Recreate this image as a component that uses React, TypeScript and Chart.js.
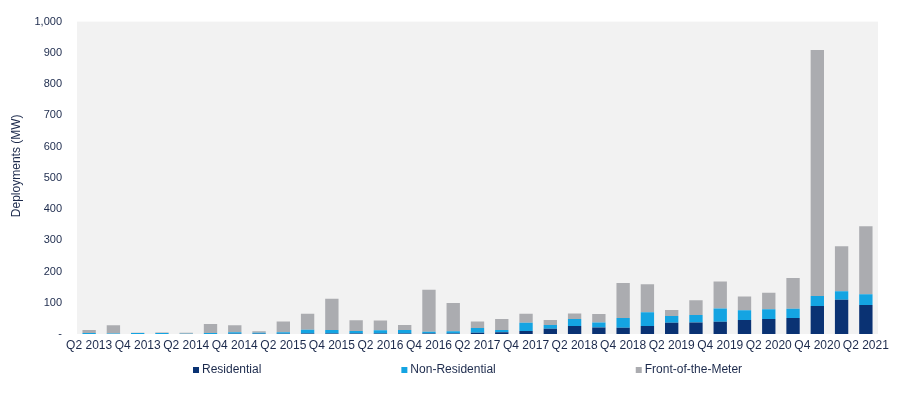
import React, { useEffect, useRef } from 'react';
import { Chart, registerables } from 'chart.js';

Chart.register(...registerables);

const quarters = [
  'Q2 2013', 'Q3 2013', 'Q4 2013', 'Q1 2014', 'Q2 2014', 'Q3 2014', 'Q4 2014',
  'Q1 2015', 'Q2 2015', 'Q3 2015', 'Q4 2015', 'Q1 2016', 'Q2 2016', 'Q3 2016',
  'Q4 2016', 'Q1 2017', 'Q2 2017', 'Q3 2017', 'Q4 2017', 'Q1 2018', 'Q2 2018',
  'Q3 2018', 'Q4 2018', 'Q1 2019', 'Q2 2019', 'Q3 2019', 'Q4 2019', 'Q1 2020',
  'Q2 2020', 'Q3 2020', 'Q4 2020', 'Q1 2021', 'Q2 2021',
];

const residential = [
  0, 0, 0, 0, 0, 0, 1, 1, 1, 2, 2, 2, 2, 2, 2, 2, 4, 6, 10, 17, 26,
  21, 20, 26, 36, 37, 39, 45, 48, 51, 90, 110, 93,
];

const nonResidential = [
  3, 2, 3, 3, 1, 3, 5, 3, 5, 12, 11, 8, 10, 11, 5, 7, 15, 7, 26, 12, 22,
  16, 31, 44, 22, 24, 43, 31, 31, 30, 32, 27, 34,
];

const frontOfTheMeter = [
  10, 26, 1, 2, 3, 29, 22, 5, 34, 51, 100, 34, 31, 16, 135, 90, 21, 35, 29, 16, 18,
  27, 112, 89, 19, 47, 86, 44, 53, 98, 787, 144, 218,
];

const seriesNames = ['Residential', 'Non-Residential', 'Front-of-the-Meter'];
const seriesColors = ['#0A3273', '#14A4E2', '#ABACB0'];
const yTitle = 'Deployments (MW)';
const yMax = 1000;
const yStep = 100;

const FONT = "'Liberation Sans', Arial, sans-serif";
const TEXT = '#1C2A4C';

const decor = {
  id: 'decor',
  beforeDraw(chart: any) {
    const { ctx, chartArea: a } = chart;
    ctx.save();
    ctx.fillStyle = '#F2F2F2';
    ctx.fillRect(a.left, a.top, a.right - a.left, a.bottom - a.top);
    ctx.restore();
  },
  afterDraw(chart: any) {
    const { ctx, chartArea: a } = chart;
    ctx.save();
    ctx.fillStyle = TEXT;
    ctx.font = `12px ${FONT}`;
    ctx.textAlign = 'center';
    ctx.textBaseline = 'middle';
    ctx.translate(a.left - 60, (a.top + a.bottom) / 2 - 12);
    ctx.rotate(-Math.PI / 2);
    ctx.fillText(yTitle, 0, 0);
    ctx.restore();

    ctx.save();
    ctx.font = `12px ${FONT}`;
    ctx.textAlign = 'left';
    ctx.textBaseline = 'middle';
    let x = a.left + 116;
    const y = a.bottom + 36;
    seriesNames.forEach((name, i) => {
      ctx.fillStyle = seriesColors[i];
      ctx.fillRect(x, y - 3, 6, 6);
      ctx.fillStyle = TEXT;
      ctx.fillText(name, x + 9, y);
      x += 9 + ctx.measureText(name).width + 140;
    });
    ctx.restore();
  },
};

export default function App() {
  const ref = useRef<HTMLCanvasElement | null>(null);

  useEffect(() => {
    if (!ref.current) return;
    const values = [residential, nonResidential, frontOfTheMeter];
    const chart = new Chart(ref.current, {
      type: 'bar',
      data: {
        labels: quarters,
        datasets: seriesNames.map((name, i) => ({
          label: name,
          data: values[i],
          backgroundColor: seriesColors[i],
          borderWidth: 0,
          barPercentage: 0.55,
          categoryPercentage: 1,
        })),
      },
      options: {
        responsive: true,
        maintainAspectRatio: false,
        animation: false,
        layout: { padding: { left: 0, right: 25, top: 21, bottom: 39 } },
        plugins: {
          legend: { display: false },
          tooltip: { enabled: false },
        },
        scales: {
          x: {
            stacked: true,
            grid: { display: false, drawTicks: false },
            border: { display: false },
            ticks: {
              autoSkip: false,
              maxRotation: 0,
              minRotation: 0,
              padding: 4,
              color: TEXT,
              font: { family: FONT, size: 12 },
              callback: (_v: any, i: number) => (i % 2 === 0 ? quarters[i] : ''),
            },
            afterFit: (s: any) => { s.height = 20; },
          },
          y: {
            stacked: true,
            min: 0,
            max: yMax,
            grid: { display: false, drawTicks: false },
            border: { display: false },
            ticks: {
              stepSize: yStep,
              padding: 15,
              color: TEXT,
              font: { family: FONT, size: 11 },
              callback: (v: any) => (v === 0 ? '-' : Number(v).toLocaleString('en-US')),
            },
            afterFit: (s: any) => { s.width = 77; },
          },
        },
      },
      plugins: [decor],
    });
    return () => chart.destroy();
  }, []);

  return (
    <div style={{ position: 'fixed', left: 0, top: 0, width: 903, height: 393, background: '#fff' }}>
      <canvas ref={ref} />
    </div>
  );
}
